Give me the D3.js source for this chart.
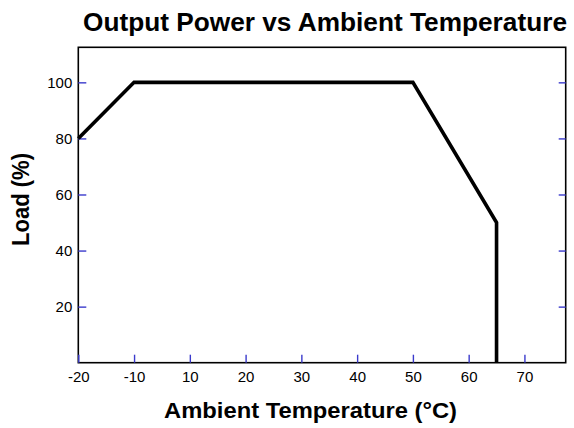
<!DOCTYPE html>
<html>
<head>
<meta charset="utf-8">
<script src="https://cdn.jsdelivr.net/npm/d3@7"></script>
<style>
  html, body { margin: 0; padding: 0; background: #fff; }
  svg { display: block; }
</style>
</head>
<body>
<script>
// ---- data ----
const temperature = [-20, -10, 50, 65, 65];
const loadPct = [80, 100, 100, 50, 0];
const xTickValues = [-20, -10, 10, 20, 30, 40, 50, 60, 70];
const yTickValues = [20, 40, 60, 80, 100];
const titleText = "Output Power vs Ambient Temperature";
const xLabelText = "Ambient Temperature (°C)";
const yLabelText = "Load (%)";

// ---- layout ----
const W = 574, H = 428;
const mLeft = 78.3, mTop = 47.3, mRight = 565.7, mBottom = 362.7;
const pw = mRight - mLeft, ph = mBottom - mTop;
const step = pw / 8.74;

const svg = d3.select("body").append("svg").attr("width", W).attr("height", H);

// piecewise x scale: the axis has equal spacing between -20, -10, 10, 20 ... 70
const x = d3.scaleLinear()
  .domain([-20, -10, 10, 77.4])
  .range([mLeft, mLeft + step, mLeft + 2 * step, mLeft + 8.74 * step]);
const y = d3.scaleLinear().domain([0, 112.5]).range([mBottom, mTop]);

const fontFam = "'Liberation Sans', Arial, sans-serif";
const tickColor = "#3a3acc";

// title
svg.append("text")
  .attr("x", 83).attr("y", 31)
  .attr("font-family", fontFam).attr("font-weight", "bold").attr("font-size", 26)
  .attr("textLength", 484).attr("lengthAdjust", "spacingAndGlyphs")
  .attr("fill", "#000")
  .text(titleText);

// frame
svg.append("rect")
  .attr("x", mLeft).attr("y", mTop).attr("width", pw).attr("height", ph)
  .attr("fill", "none").attr("stroke", "#000").attr("stroke-width", 1.6);

// bottom axis (ticks inward)
const xAxis = d3.axisBottom(x).tickValues(xTickValues).tickSize(-8).tickPadding(9);
const gx = svg.append("g").attr("transform", `translate(0,${mBottom})`).call(xAxis);
gx.select(".domain").remove();
gx.selectAll(".tick line").attr("stroke", tickColor).attr("stroke-width", 1.4);
gx.selectAll(".tick text").attr("font-family", fontFam).attr("font-size", 15).attr("fill", "#000")
  .text(d => String(d));

// left axis (ticks inward)
const yAxis = d3.axisLeft(y).tickValues(yTickValues).tickSize(-8).tickPadding(6);
const gy = svg.append("g").attr("transform", `translate(${mLeft},0)`).call(yAxis);
gy.select(".domain").remove();
gy.selectAll(".tick line").attr("stroke", tickColor).attr("stroke-width", 1.4);
gy.selectAll(".tick text").attr("font-family", fontFam).attr("font-size", 15).attr("fill", "#000");

// right axis ticks (inward, no labels)
const yAxisR = d3.axisRight(y).tickValues(yTickValues).tickSize(-7).tickFormat("");
const gyr = svg.append("g").attr("transform", `translate(${mRight},0)`).call(yAxisR);
gyr.select(".domain").remove();
gyr.selectAll(".tick line").attr("stroke", tickColor).attr("stroke-width", 1.4);

// data line
const pts = temperature.map((t, i) => [t, loadPct[i]]);
const line = d3.line().x(d => x(d[0])).y(d => y(d[1]));
svg.append("path")
  .datum(pts)
  .attr("d", line)
  .attr("fill", "none").attr("stroke", "#000").attr("stroke-width", 3.6)
  .attr("stroke-linejoin", "miter");

// axis labels
svg.append("text")
  .attr("x", 164).attr("y", 418)
  .attr("font-family", fontFam).attr("font-weight", "bold").attr("font-size", 22)
  .attr("textLength", 293).attr("lengthAdjust", "spacingAndGlyphs")
  .attr("fill", "#000")
  .text(xLabelText);

svg.append("text")
  .attr("transform", "translate(29,246) rotate(-90)")
  .attr("x", 0).attr("y", 0)
  .attr("font-family", fontFam).attr("font-weight", "bold").attr("font-size", 23)
  .attr("textLength", 93).attr("lengthAdjust", "spacingAndGlyphs")
  .attr("fill", "#000")
  .text(yLabelText);
</script>
</body>
</html>
